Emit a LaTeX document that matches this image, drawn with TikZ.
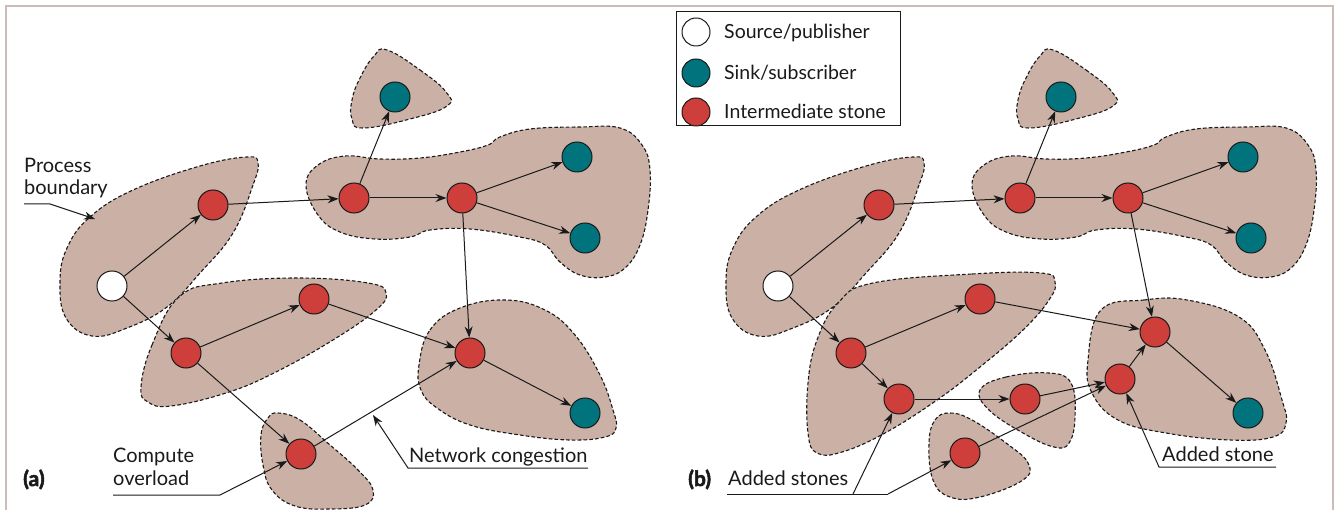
\documentclass[tikz,border=0pt]{standalone}
\usepackage{fontspec}
\setmainfont{Lato}
\newfontfamily\tagfont{Lato}[FakeBold=2.5]
\usetikzlibrary{arrows.meta}
\definecolor{blobc}{HTML}{CBB0A6}
\definecolor{stonered}{HTML}{CE3E3B}
\definecolor{sinkteal}{HTML}{00737D}
\definecolor{framec}{HTML}{CABCB8}
\definecolor{inkc}{HTML}{1A1A1A}
\tikzset{
  blob/.style={fill=blobc, draw=inkc, dash pattern=on 3.6pt off 2.2pt, line width=1.1pt},
  stone/.style={circle, draw=inkc, line width=1pt, minimum size=30pt, inner sep=0pt},
  src/.style={stone, fill=white},
  snk/.style={stone, fill=sinkteal},
  mid/.style={stone, fill=stonered},
  keystone/.style={stone, minimum size=28pt},
  edge/.style={draw=inkc, line width=1pt, -{Stealth[length=11pt, width=8pt]}},
  plain/.style={draw=inkc, line width=1pt},
  lbl/.style={font=\fontsize{20}{24}\selectfont, text=inkc, inner sep=0pt, align=left},
  keytxt/.style={font=\fontsize{19.5}{22}\selectfont, text=inkc, inner sep=0pt, anchor=base west},
  tag/.style={font=\tagfont\bfseries\fontsize{21}{24}\selectfont, text=inkc, inner sep=0pt, anchor=base west}
}
\begin{document}
\begin{tikzpicture}[x=1pt, y=-1pt]
\useasboundingbox (0,0) rectangle (1340,510);
% outer frame (open at the bottom)
\draw[framec, line width=2pt] (6,510) -- (6,6) -- (1333,6) -- (1333,510);

% ---------------- panel (a): process boundaries ----------------
\draw[blob] plot[smooth cycle, tension=0.7] coordinates {(258,163) (253,185) (233,233) (200,273) (167,307) (127,328) (92,336) (66,318) (60,282) (67,248) (90,217) (133,190) (200,166) (247,157)};
\draw[blob] plot[smooth cycle, tension=0.75] coordinates {(387,50) (420,70) (446,92) (447,106) (410,119) (363,128) (352,119) (352,100) (360,78) (374,56)};
\draw[blob] plot[smooth cycle, tension=0.7] coordinates {(306,185) (318,165) (345,156) (380,159) (420,158) (460,152) (488,145) (500,137) (530,129) (580,127) (620,128) (642,145) (650,170) (648,210) (640,245) (625,268) (605,277) (580,275) (560,262) (545,245) (520,237) (470,229) (430,230) (410,237) (375,239) (340,232) (318,215)};
\draw[blob] plot[smooth cycle, tension=0.7] coordinates {(141,387) (152,345) (179,297) (222,283) (299,278) (368,283) (386,293) (376,310) (333,340) (274,373) (226,393) (171,406) (148,402)};
\draw[blob] plot[smooth cycle, tension=0.7] coordinates {(419,365) (430,330) (460,308) (505,300) (545,310) (575,335) (600,375) (613,410) (616,428) (605,437) (570,440) (520,435) (470,425) (437,408) (421,390)};
\draw[blob] plot[smooth cycle, tension=0.7] coordinates {(278,413) (300,420) (330,445) (358,470) (373,490) (365,505) (330,509) (295,506) (272,490) (263,465) (261,435) (268,418)};

% ---------------- panel (a): stones ----------------
\node[src] (Sa)  at (112,286) {};
\node[mid] (A1a) at (213,205) {};
\node[mid] (A2a) at (354,198) {};
\node[mid] (A3a) at (462,198) {};
\node[snk] (T1a) at (395,97) {};
\node[snk] (T2a) at (577,157) {};
\node[snk] (T3a) at (585,238) {};
\node[mid] (B1a) at (186,353) {};
\node[mid] (B2a) at (314,299) {};
\node[mid] (Ca)  at (470,353) {};
\node[snk] (T4a) at (585,413) {};
\node[mid] (Da)  at (301,454) {};

\draw[edge] (Sa) -- (A1a);
\draw[edge] (Sa) -- (B1a);
\draw[edge] (A1a) -- (A2a);
\draw[edge] (A2a) -- (A3a);
\draw[edge] (A2a) -- (T1a);
\draw[edge] (A3a) -- (T2a);
\draw[edge] (A3a) -- (T3a);
\draw[edge] (A3a) -- (Ca);
\draw[edge] (B1a) -- (B2a);
\draw[edge] (B1a) -- (Da);
\draw[edge] (B2a) -- (Ca);
\draw[edge] (Da) -- (Ca);
\draw[edge] (Ca) -- (T4a);

% ---------------- panel (a): annotations ----------------
\node[lbl, anchor=base west] (pbl) at (24,173) {Process};
\node[lbl, anchor=base west] (pbl2) at (24,195) {boundary};
\coordinate (pb0) at (24,204);
\coordinate (pb1) at (50,204);
\coordinate (pbt) at (95,219);
\draw[edge] (pb0) -- (pb1) -- (pbt);

\node[lbl, anchor=base west] (col) at (113,462) {Compute};
\node[lbl, anchor=base west] (col2) at (113,485) {overload};
\coordinate (co0) at (113,495);
\coordinate (co1) at (220,495);
\draw[edge] (co0) -- (co1) -- (Da);

\node[lbl, anchor=base west] (ncl) at (409,462) {Network congestion};
\coordinate (nc0) at (408,468);
\coordinate (nc1) at (588,468);
\coordinate (nct) at (373,415);
\draw[edge] (nc1) -- (nc0) -- (nct);

\node[tag] (taga) at (23,486) {(a)};

% ---------------- legend ----------------
\draw[draw=inkc, line width=1pt] (676,12) rectangle (900,126);
\node[keystone, fill=white]     (k1) at (696,32) {};
\node[keystone, fill=sinkteal]  (k2) at (696,73) {};
\node[keystone, fill=stonered]  (k3) at (696,112) {};
\node[keytxt] (k1t) at (724,39) {Source/publisher};
\node[keytxt] (k2t) at (724,80) {Sink/subscriber};
\node[keytxt] (k3t) at (724,119) {Intermediate stone};

% ---------------- panel (b): process boundaries ----------------
\begin{scope}[xshift=666pt]
\draw[blob] plot[smooth cycle, tension=0.7] coordinates {(258,163) (253,185) (233,233) (200,273) (167,307) (127,328) (92,336) (66,318) (60,282) (67,248) (90,217) (133,190) (200,166) (247,157)};
\draw[blob] plot[smooth cycle, tension=0.75] coordinates {(387,50) (420,70) (446,92) (447,106) (410,119) (363,128) (352,119) (352,100) (360,78) (374,56)};
\draw[blob] plot[smooth cycle, tension=0.7] coordinates {(306,185) (318,165) (345,156) (380,159) (420,158) (460,152) (488,145) (500,137) (530,129) (580,127) (620,128) (642,145) (650,170) (648,210) (640,245) (625,268) (605,277) (580,275) (560,262) (545,245) (520,237) (470,229) (430,230) (410,237) (375,239) (340,232) (318,215)};
\end{scope}
\draw[blob] plot[smooth cycle, tension=0.7] coordinates {(873,283) (972,274) (1041,273) (1055,282) (1049,300) (1023,330) (980,367) (937,400) (885,433) (842,452) (817,453) (808,433) (808,383) (817,340) (838,303)};
\draw[blob] plot[smooth cycle, tension=0.7] coordinates {(980,390) (1006,377) (1049,373) (1071,383) (1075,417) (1069,443) (1054,447) (1023,433) (989,410)};
\draw[blob] plot[smooth cycle, tension=0.7] coordinates {(950,413) (972,420) (1006,443) (1028,463) (1023,480) (980,497) (950,497) (933,480) (929,443) (935,420)};
\draw[blob] plot[smooth cycle, tension=0.7] coordinates {(1101,310) (1144,300) (1187,300) (1239,317) (1265,350) (1282,400) (1286,423) (1273,437) (1230,440) (1166,433) (1118,420) (1092,393) (1088,360)};

% ---------------- panel (b): stones ----------------
\node[src] (Sb)  at (778,286) {};
\node[mid] (A1b) at (879,205) {};
\node[mid] (A2b) at (1020,198) {};
\node[mid] (A3b) at (1128,198) {};
\node[snk] (T1b) at (1061,97) {};
\node[snk] (T2b) at (1243,157) {};
\node[snk] (T3b) at (1251,238) {};
\node[mid] (B1b) at (851,353) {};
\node[mid] (B2b) at (980,299) {};
\node[mid] (Eb)  at (899,399) {};
\node[mid] (Fb)  at (1025,399) {};
\node[mid] (Gb)  at (965,453) {};
\node[mid] (Hb)  at (1120,379) {};
\node[mid] (Cb)  at (1155,332) {};
\node[snk] (T4b) at (1248,413) {};

\draw[edge] (Sb) -- (A1b);
\draw[edge] (Sb) -- (B1b);
\draw[edge] (A1b) -- (A2b);
\draw[edge] (A2b) -- (A3b);
\draw[edge] (A2b) -- (T1b);
\draw[edge] (A3b) -- (T2b);
\draw[edge] (A3b) -- (T3b);
\draw[edge] (A3b) -- (Cb);
\draw[edge] (B1b) -- (B2b);
\draw[edge] (B1b) -- (Eb);
\draw[edge] (B2b) -- (Cb);
\draw[edge] (Eb) -- (Fb);
\draw[edge] (Fb) -- (Hb);
\draw[edge] (Gb) -- (Hb);
\draw[edge] (Hb) -- (Cb);
\draw[edge] (Cb) -- (T4b);

% ---------------- panel (b): annotations ----------------
\node[tag] (tagb) at (688,486) {(b)};
\node[lbl, anchor=base west] (asl) at (728,485) {Added stones};
\coordinate (as0) at (727,494);
\coordinate (asm) at (853,494);
\coordinate (as1) at (888,494);
\draw[plain] (as0) -- (as1);
\draw[edge] (asm) -- (Eb);
\draw[edge] (as1) -- (Gb);

\node[lbl, anchor=base west] (adl) at (1162,461) {Added stone};
\coordinate (ad0) at (1159,467);
\coordinate (ad1) at (1276,467);
\draw[edge] (ad1) -- (ad0) -- (Hb);
\end{tikzpicture}
\end{document}
